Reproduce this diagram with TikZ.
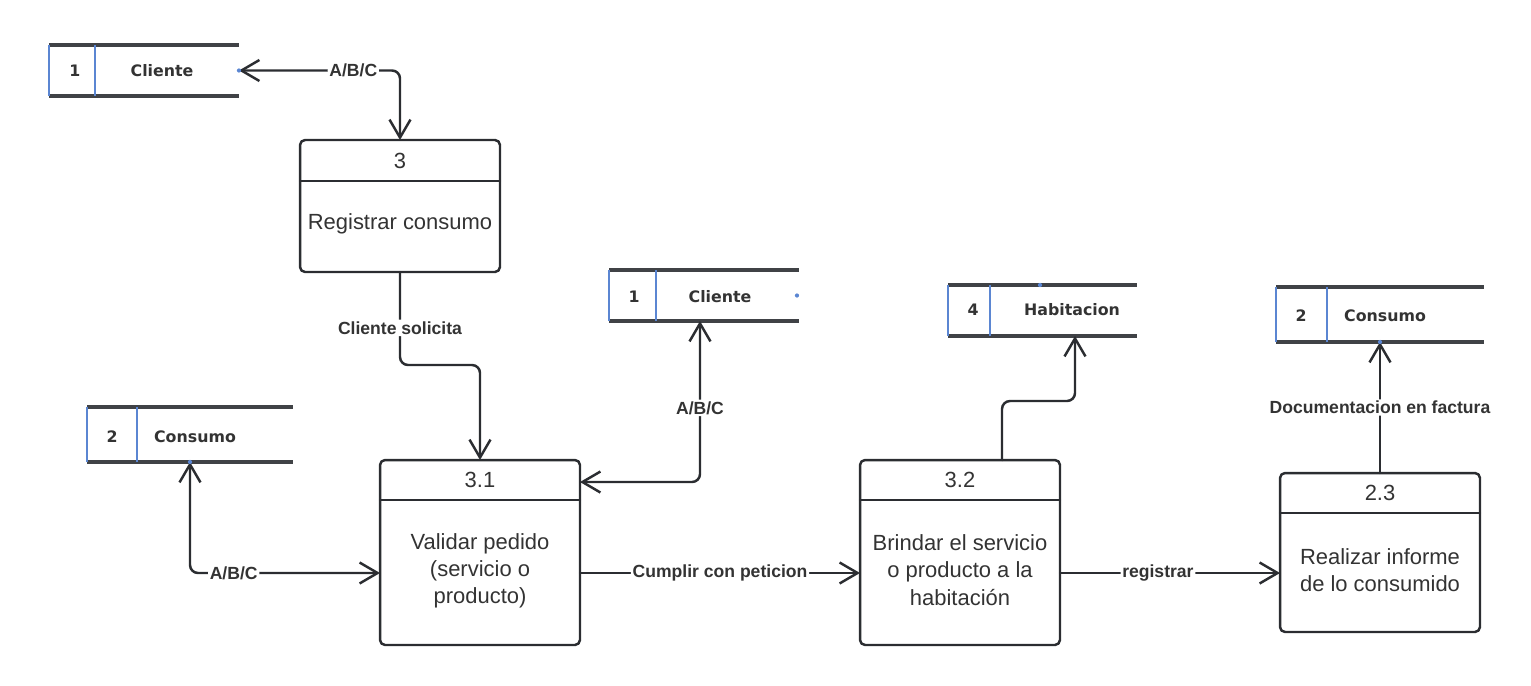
\documentclass[tikz,border=0pt]{standalone}
\usepackage{fontspec}
\setmainfont{Liberation Sans}
\newfontfamily\almacenfont{DejaVu Sans}
\usetikzlibrary{arrows.meta}
\definecolor{linea}{HTML}{2B2D31}
\definecolor{texto}{HTML}{333333}
\definecolor{azul}{HTML}{5B86D2}
\begin{document}
\begin{tikzpicture}[x=0.02cm, y=-0.02cm, line join=round, line cap=round,
	>={Straight Barb[length=0.36cm, width=0.42cm]},
	proceso/.style={draw=linea, line width=1.4pt, rounded corners=0.1cm, minimum width=4cm, inner sep=0pt, outer sep=0pt},
	cabecera/.style={draw=linea, line width=1.4pt},
	titulo/.style={font=\fontsize{12.5}{15}\selectfont, text=texto},
	cuerpo/.style={font=\fontsize{12.5}{15.5}\selectfont, text=texto, align=center},
	flujo/.style={draw=linea, line width=1.4pt, rounded corners=0.16cm},
	etiqueta/.style={font=\bfseries\fontsize{10}{12}\selectfont, text=texto, fill=white, inner sep=1pt},
	almacen/.style={inner sep=0pt, outer sep=0pt},
	borde/.style={draw=linea!90, line width=1.8pt, line cap=butt},
	lado/.style={draw=azul, line width=1.1pt, line cap=butt},
	almtxt/.style={font=\almacenfont\bfseries\fontsize{9}{11}\selectfont, text=texto}
	]
	\useasboundingbox (0,0) rectangle (1531,686);
	
	% almacenes de datos
	\node[almacen, minimum width=3.8cm, minimum height=1.02cm] (s1) at (144,70.5) {};
	\node[almacen, minimum width=3.8cm, minimum height=1.02cm] (s2) at (704,295.5) {};
	\node[almacen, minimum width=4.12cm, minimum height=1.1cm] (s3) at (190,434.5) {};
	\node[almacen, minimum width=3.78cm, minimum height=1.02cm] (s4) at (1042.5,310.5) {};
	\node[almacen, minimum width=4.16cm, minimum height=1.1cm] (s5) at (1380,314.5) {};
	
	\draw[borde] (s1.north west) -- (s1.north east) (s1.south west) -- (s1.south east);
	\draw[lado] (s1.north west) -- (s1.south west) ([xshift=0.92cm]s1.north west) -- ([xshift=0.92cm]s1.south west);
	\draw[borde] (s2.north west) -- (s2.north east) (s2.south west) -- (s2.south east);
	\draw[lado] (s2.north west) -- (s2.south west) ([xshift=0.94cm]s2.north west) -- ([xshift=0.94cm]s2.south west);
	\draw[borde] (s3.north west) -- (s3.north east) (s3.south west) -- (s3.south east);
	\draw[lado] (s3.north west) -- (s3.south west) ([xshift=1cm]s3.north west) -- ([xshift=1cm]s3.south west);
	\draw[borde] (s4.north west) -- (s4.north east) (s4.south west) -- (s4.south east);
	\draw[lado] (s4.north west) -- (s4.south west) ([xshift=0.84cm]s4.north west) -- ([xshift=0.84cm]s4.south west);
	\draw[borde] (s5.north west) -- (s5.north east) (s5.south west) -- (s5.south east);
	\draw[lado] (s5.north west) -- (s5.south west) ([xshift=1.02cm]s5.north west) -- ([xshift=1.02cm]s5.south west);
	
	\node[almtxt] (s1n) at (75,71) {1};
	\node[almtxt] (s1t) at (162,71) {Cliente};
	\node[almtxt] (s2n) at (634,297) {1};
	\node[almtxt] (s2t) at (720,297) {Cliente};
	\node[almtxt] (s3n) at (112,437) {2};
	\node[almtxt] (s3t) at (195,437) {Consumo};
	\node[almtxt] (s4n) at (973,310) {4};
	\node[almtxt] (s4t) at (1072,310) {Habitacion};
	\node[almtxt] (s5n) at (1301,316) {2};
	\node[almtxt] (s5t) at (1385,316) {Consumo};
	
	% procesos
	\node[proceso, minimum height=2.64cm] (p3) at (400,206) {};
	\draw[cabecera] ([yshift=-0.82cm]p3.north west) -- ([yshift=-0.82cm]p3.north east);
	\node[titulo] (p3a) at ([yshift=-0.41cm]p3.north) {3};
	\node[cuerpo] (p3b) at (400,224) {Registrar consumo};
	
	\node[proceso, minimum height=3.7cm] (p31) at (480,552.5) {};
	\draw[cabecera] ([yshift=-0.8cm]p31.north west) -- ([yshift=-0.8cm]p31.north east);
	\node[titulo] (p31a) at ([yshift=-0.4cm]p31.north) {3.1};
	\node[cuerpo] (p31b) at (480,571) {Validar pedido\\(servicio o\\producto)};
	
	\node[proceso, minimum height=3.7cm] (p32) at (960,552.5) {};
	\draw[cabecera] ([yshift=-0.8cm]p32.north west) -- ([yshift=-0.8cm]p32.north east);
	\node[titulo] (p32a) at ([yshift=-0.4cm]p32.north) {3.2};
	\node[cuerpo] (p32b) at (960,570) {Brindar el servicio\\o producto a la\\habitación};
	
	\node[proceso, minimum height=3.18cm] (p23) at (1380,552.5) {};
	\draw[cabecera] ([yshift=-0.8cm]p23.north west) -- ([yshift=-0.8cm]p23.north east);
	\node[titulo] (p23a) at ([yshift=-0.4cm]p23.north) {2.3};
	\node[cuerpo] (p23b) at (1380,570) {Realizar informe\\de lo consumido};
	
	% flujos
	\coordinate (k1) at (440,365);
	\coordinate (k2) at (1040,401);
	\draw[flujo,<->] (s1.east) -| node[etiqueta, pos=0.355] {A/B/C} (p3.north);
	\draw[flujo,->] (p3.south) |- node[etiqueta, pos=0.3] {Cliente solicita} (k1) -| (p31.north);
	\draw[flujo,<->] ([yshift=-0.44cm]p31.north east) -| node[etiqueta, pos=0.73] {A/B/C} ([xshift=-0.08cm]s2.south);
	\draw[flujo,<->] ([yshift=-0.41cm]p31.west) -| node[etiqueta, pos=0.385] {A/B/C} (s3.south);
	\draw[flujo,->] ([yshift=-0.41cm]p31.east) -- node[etiqueta] {Cumplir con peticion} ([yshift=-0.41cm]p32.west);
	\draw[flujo,->] ([xshift=0.84cm]p32.north) |- (k2) -| ([xshift=0.65cm]s4.south);
	\draw[flujo,->] ([yshift=-0.41cm]p32.east) -- node[etiqueta, pos=0.445] {registrar} ([yshift=-0.41cm]p23.west);
	\draw[flujo,->] (p23.north) -- node[etiqueta] {Documentacion en factura} (s5.south);
	
	% marcas azules
	\fill[azul] (s1.east) circle (1.2pt);
	\fill[azul] ([xshift=-0.04cm]s2.east) circle (1.2pt);
	\fill[azul] ([xshift=-0.05cm]s4.north) circle (1.2pt);
	\fill[azul] (s3.south) circle (1.2pt);
	\fill[azul] (s5.south) circle (1.2pt);
\end{tikzpicture}
\end{document}
